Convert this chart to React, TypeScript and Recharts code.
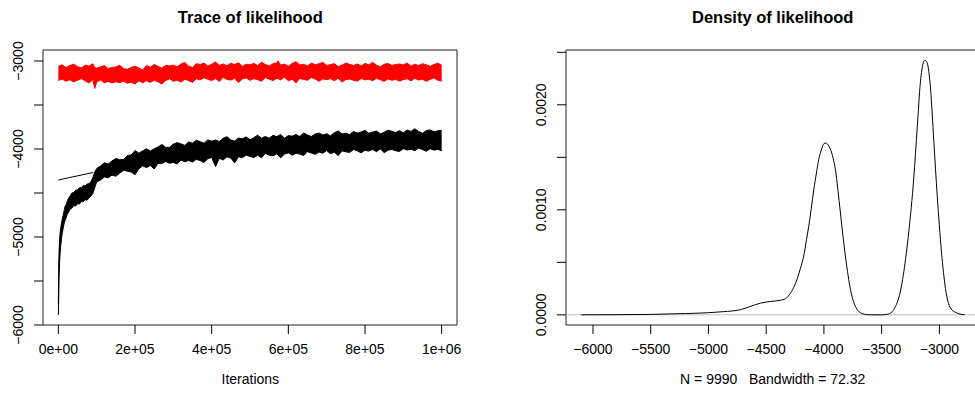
import React from "react";
import { ComposedChart, Area, Line, XAxis, YAxis, ReferenceArea, ReferenceLine } from "recharts";

// ---- Trace of likelihood: chain envelopes (iteration, low, high) ----
const blackIter = [0, 1000, 2000, 3000, 4000, 5000, 6500, 8000, 10000, 12500, 15000, 17500, 20000, 23000, 26000, 30000, 35000, 40000, 45000, 50000, 55000, 60000, 65000, 70000, 75000, 80000, 85000, 90000, 95000, 100000,
  110000, 120000, 130000, 140000, 150000, 160000, 170000, 180000, 190000, 200000, 210000, 220000, 230000, 240000, 250000, 260000, 270000, 280000, 290000, 300000,
  310000, 320000, 330000, 340000, 350000, 360000, 370000, 380000, 390000, 400000, 410000, 420000, 430000, 440000, 450000, 460000, 470000, 480000, 490000, 500000,
  510000, 520000, 530000, 540000, 550000, 560000, 570000, 580000, 590000, 600000, 610000, 620000, 630000, 640000, 650000, 660000, 670000, 680000, 690000, 700000,
  710000, 720000, 730000, 740000, 750000, 760000, 770000, 780000, 790000, 800000, 810000, 820000, 830000, 840000, 850000, 860000, 870000, 880000, 890000, 900000,
  910000, 920000, 930000, 940000, 950000, 960000, 970000, 980000, 990000, 1000000];
const blackLow = [-5886, -5700, -5450, -5330, -5230, -5160, -5090, -5030, -4960, -4905, -4850, -4812, -4785, -4745, -4725, -4688, -4672, -4645, -4648, -4622, -4625, -4598, -4600, -4575, -4582, -4555, -4535, -4505, -4440, -4372,
  -4354, -4317, -4327, -4297, -4310, -4275, -4242, -4252, -4262, -4292,
  -4225, -4190, -4212, -4187, -4227, -4164, -4166, -4143, -4162, -4153,
  -4170, -4126, -4145, -4131, -4148, -4118, -4132, -4154, -4110, -4096,
  -4200, -4106, -4125, -4089, -4103, -4158, -4088, -4098, -4070, -4084,
  -4097, -4071, -4100, -4050, -4071, -4077, -4054, -4100, -4058, -4044,
  -4070, -4049, -4058, -4073, -4031, -4046, -4060, -4034, -4048, -4018,
  -4054, -4036, -4075, -4021, -4032, -4039, -4006, -4021, -4044, -4015,
  -4024, -4005, -4030, -3998, -4043, -4013, -4005, -4020, -4028, -3996,
  -4012, -4002, -4019, -3989, -4007, -4026, -3997, -4013, -4004, -4020];
const blackHigh = [-5760, -5300, -5150, -5060, -4990, -4940, -4890, -4850, -4800, -4755, -4705, -4650, -4640, -4598, -4565, -4540, -4500, -4495, -4468, -4466, -4440, -4438, -4415, -4420, -4398, -4396, -4370, -4328, -4262, -4222,
  -4193, -4156, -4171, -4136, -4108, -4121, -4120, -4075, -4069, -4018,
  -4047, -4022, -3997, -4023, -3997, -3977, -3948, -3981, -3982, -3945,
  -3927, -3942, -3959, -3920, -3934, -3900, -3917, -3934, -3897, -3911,
  -3898, -3914, -3879, -3860, -3898, -3910, -3876, -3883, -3863, -3894,
  -3871, -3843, -3878, -3858, -3877, -3845, -3859, -3835, -3877, -3848,
  -3854, -3835, -3858, -3818, -3841, -3858, -3829, -3818, -3841, -3827,
  -3850, -3816, -3794, -3829, -3820, -3836, -3802, -3818, -3806, -3788,
  -3822, -3807, -3795, -3827, -3810, -3786, -3799, -3812, -3792, -3816,
  -3784, -3800, -3770, -3802, -3820, -3791, -3783, -3804, -3794, -3788];

const redIter = [0, 10000, 20000, 30000, 40000, 50000, 60000, 70000, 80000, 90000, 95000,
  100000, 110000, 120000, 130000, 140000,
  150000, 160000, 170000, 180000, 190000, 200000, 210000, 220000,
  230000, 240000, 250000, 260000, 270000, 280000,
  290000, 300000, 310000, 320000, 330000, 340000, 350000,
  360000, 370000, 380000, 390000, 400000, 410000, 420000, 430000, 440000, 450000, 460000, 470000, 480000, 490000, 500000, 510000, 520000, 530000, 540000, 550000, 560000, 570000,
  573000,
  580000, 590000, 600000, 610000, 620000, 630000, 640000, 650000, 660000, 670000, 680000, 690000, 700000,
  710000, 720000, 730000, 740000, 750000, 760000, 770000, 780000, 790000, 800000, 810000, 820000, 830000, 840000, 850000,
  860000, 870000, 880000, 890000, 900000, 910000, 920000, 930000, 940000, 950000, 960000, 970000, 980000, 990000, 1000000];
const redLow = [-3222, -3205, -3230, -3213, -3238, -3218, -3200, -3225, -3250, -3212, -3312,
  -3240, -3215, -3247, -3232, -3250,
  -3236, -3246, -3229, -3254, -3241, -3263, -3224, -3248,
  -3223, -3244, -3218, -3236, -3262, -3222,
  -3201, -3231, -3218, -3240, -3207, -3224, -3242,
  -3202, -3215, -3190, -3207, -3223, -3200, -3232, -3185, -3209, -3217, -3196, -3244, -3204, -3192, -3220, -3201, -3212, -3229, -3189, -3206, -3222, -3198,
  -3200,
  -3214, -3186, -3224, -3208, -3249, -3197, -3210, -3219, -3188, -3205, -3230, -3203, -3213,
  -3199, -3225, -3194, -3240, -3211, -3204, -3220, -3229, -3198, -3215, -3206, -3224, -3195, -3213, -3232,
  -3203, -3219, -3210, -3226, -3212, -3201, -3225, -3196, -3217, -3206, -3231, -3208, -3192, -3220, -3228];
const redHigh = [-3061, -3044, -3074, -3052, -3036, -3064, -3078, -3048, -3057, -3031, -3075,
  -3082, -3067, -3052, -3088, -3072,
  -3069, -3048, -3087, -3094, -3073, -3060, -3080, -3102,
  -3052, -3070, -3040, -3061, -3082, -3049,
  -3056, -3047, -3066, -3034, -3018, -3059, -3074,
  -3030, -3040, -3023, -3057, -3037, -3012, -3050, -3033, -3055, -3025, -3041, -3019, -3063, -3036, -3044, -3027, -3052, -3014, -3039, -3058, -3031, -3022,
  -2998,
  -3047, -3035, -3060, -3028, -3008, -3045, -3038, -3056, -3024, -3042, -3032, -3016, -3051,
  -3041, -3030, -3063, -3047, -3024, -3038, -3052, -3033, -3058, -3027, -3044, -3015, -3048, -3066, -3037,
  -3029, -3050, -3040, -3034, -3045, -3023, -3059, -3036, -3052, -3030, -3043, -3061, -3039, -3026, -3048];

const segIter = [0, 91000];
const segVal = [-4352, -4267];

const traceXTicks = [0, 200000, 400000, 600000, 800000, 1000000];
const traceXLabels = ["0e+00", "2e+05", "4e+05", "6e+05", "8e+05", "1e+06"];
const traceYTicks = [-6000, -5500, -5000, -4500, -4000, -3500, -3000];
const traceYLabels = ["\u22126000", "", "\u22125000", "", "\u22124000", "", "\u22123000"];

// ---- Density of likelihood ----
const densX = [-6101, -5800, -5500, -5200, -5000, -4870, -4725, -4640, -4550, -4465, -4380, -4330, -4300, -4262, -4232, -4204, -4175, -4150, -4132, -4110,
  -4088, -4065, -4045, -4020, -4000, -3983, -3965, -3945, -3920, -3900, -3880, -3857, -3835, -3814, -3790, -3770, -3745, -3727, -3705, -3684,
  -3650, -3600, -3500, -3450, -3409, -3380, -3352, -3308, -3265, -3222, -3192, -3164, -3140, -3127, -3106, -3077, -3048, -3019, -2982, -2947,
  -2904, -2846, -2781];
const densY = [0, 0.000001, 0.000004, 0.000012, 0.00002, 0.00003, 0.000048, 0.000079, 0.000111, 0.000127, 0.000138, 0.000155, 0.00019, 0.00026, 0.00034, 0.00044, 0.00056, 0.00072, 0.00084, 0.00101,
  0.00119, 0.00135, 0.00148, 0.00158, 0.00163, 0.001635, 0.00162, 0.00158, 0.00149, 0.00138, 0.0012, 0.00097, 0.00075, 0.00056, 0.00037, 0.00024, 0.00013, 0.00008, 0.00004, 0.00002,
  0.000006, 0, 0, 0.000005, 0.00003, 0.00008, 0.00016, 0.00041, 0.00079, 0.0013, 0.00178, 0.00222, 0.0024, 0.002425, 0.0024, 0.00216, 0.00165, 0.00114, 0.0006, 0.00025,
  0.000064, 0.000016, 0];

const densXTicks = [-6000, -5500, -5000, -4500, -4000, -3500, -3000];
const densXLabels = ["\u22126000", "\u22125500", "\u22125000", "\u22124500", "\u22124000", "\u22123500", "\u22123000"];
const densYTicks = [0, 0.0005, 0.001, 0.0015, 0.002, 0.0025];
const densYLabels = ["0.0000", "", "0.0010", "", "0.0020", ""];

const FONT = "'Liberation Sans', Arial, Helvetica, sans-serif";
const TICK_FS = 14;

const findLabel = (ticks: number[], labels: string[], v: number) => {
  const i = ticks.findIndex((t) => Math.abs(t - v) < 1e-9);
  return i >= 0 ? labels[i] : "";
};

const makeXTick = (ticks: number[], labels: string[]) => (props: any) => {
  const { x, y, payload } = props;
  return (
    <text x={x} y={y + 18} textAnchor="middle" fontSize={TICK_FS} fill="#000" fontFamily={FONT}>
      {findLabel(ticks, labels, payload.value)}
    </text>
  );
};

const makeYTick = (ticks: number[], labels: string[]) => (props: any) => {
  const { x, y, payload } = props;
  const lab = findLabel(ticks, labels, payload.value);
  if (!lab) return <g />;
  return (
    <text transform={`translate(${x - 9},${y}) rotate(-90)`} textAnchor="middle" fontSize={TICK_FS} fill="#000" fontFamily={FONT}>
      {lab}
    </text>
  );
};

const blackData = blackIter.map((it, i) => ({ iter: it, range: [blackLow[i], blackHigh[i]] }));
const redData = redIter.map((it, i) => ({ iter: it, range: [redLow[i], redHigh[i]] }));
const segData = segIter.map((it, i) => ({ iter: it, v: segVal[i] }));
const densData = densX.map((x, i) => ({ x, d: densY[i] }));

const TRACE_X: [number, number] = [-40000, 1040000];
const TRACE_Y: [number, number] = [-6000, -2875];
const DENS_X: [number, number] = [-6233.8, -2648.2];
const DENS_Y: [number, number] = [-0.000097, 0.002522];

export default function App() {
  return (
    <div style={{ position: "absolute", left: 0, top: 0, width: 975, height: 396, overflow: "hidden", background: "#fff", fontFamily: FONT }}>
      <div style={{ position: "absolute", left: 0, top: 0 }}>
        <ComposedChart width={487} height={396} margin={{ top: 50, right: 30, bottom: 0, left: 0 }}>
          <XAxis
            dataKey="iter"
            type="number"
            domain={TRACE_X}
            allowDataOverflow
            ticks={traceXTicks}
            interval={0}
            axisLine={false}
            tickLine={{ stroke: "#000" }}
            tickSize={9}
            height={71}
            tick={makeXTick(traceXTicks, traceXLabels)}
          />
          <YAxis
            type="number"
            domain={TRACE_Y}
            allowDataOverflow
            ticks={traceYTicks}
            interval={0}
            axisLine={false}
            tickLine={{ stroke: "#000" }}
            tickSize={9}
            width={43}
            tick={makeYTick(traceYTicks, traceYLabels)}
          />
          <ReferenceArea x1={TRACE_X[0]} x2={TRACE_X[1]} y1={TRACE_Y[0]} y2={TRACE_Y[1]} fill="none" stroke="#222" strokeWidth={1} ifOverflow="visible" />
          <Area data={redData} dataKey="range" type="linear" stroke="#ff0000" strokeWidth={1} fill="#ff0000" fillOpacity={1} isAnimationActive={false} dot={false} activeDot={false} />
          <Area data={blackData} dataKey="range" type="linear" stroke="#000" strokeWidth={1} fill="#000" fillOpacity={1} isAnimationActive={false} dot={false} activeDot={false} />
          <Line data={segData} dataKey="v" type="linear" stroke="#000" strokeWidth={1} dot={false} activeDot={false} isAnimationActive={false} />
        </ComposedChart>
      </div>
      <div style={{ position: "absolute", left: 487, top: 0 }}>
        <ComposedChart width={500} height={396} margin={{ top: 50, right: 7, bottom: 0, left: 0 }}>
          <XAxis
            dataKey="x"
            type="number"
            domain={DENS_X}
            allowDataOverflow
            ticks={densXTicks}
            interval={0}
            axisLine={false}
            tickLine={{ stroke: "#000" }}
            tickSize={9}
            height={71}
            tick={makeXTick(densXTicks, densXLabels)}
          />
          <YAxis
            type="number"
            domain={DENS_Y}
            allowDataOverflow
            ticks={densYTicks}
            interval={0}
            axisLine={false}
            tickLine={{ stroke: "#000" }}
            tickSize={9}
            width={79}
            tick={makeYTick(densYTicks, densYLabels)}
          />
          <ReferenceArea x1={DENS_X[0]} x2={DENS_X[1]} y1={DENS_Y[0]} y2={DENS_Y[1]} fill="none" stroke="#222" strokeWidth={1} ifOverflow="visible" />
          <ReferenceLine y={0} stroke="#bebebe" strokeWidth={1} />
          <Line data={densData} dataKey="d" type="monotone" stroke="#000" strokeWidth={1} dot={false} activeDot={false} isAnimationActive={false} />
        </ComposedChart>
      </div>
      <svg width={975} height={396} style={{ position: "absolute", left: 0, top: 0, pointerEvents: "none" }}>
        <text x={250.3} y={23} textAnchor="middle" fontSize={16.5} fontWeight="bold" fontFamily={FONT}>Trace of likelihood</text>
        <text x={772.7} y={23} textAnchor="middle" fontSize={16.5} fontWeight="bold" fontFamily={FONT}>Density of likelihood</text>
        <text x={250.3} y={384} textAnchor="middle" fontSize={TICK_FS} fontFamily={FONT}>Iterations</text>
        <text x={772.7} y={384} textAnchor="middle" fontSize={TICK_FS} fontFamily={FONT} style={{ whiteSpace: "pre" }}>{"N = 9990   Bandwidth = 72.32"}</text>
      </svg>
    </div>
  );
}
